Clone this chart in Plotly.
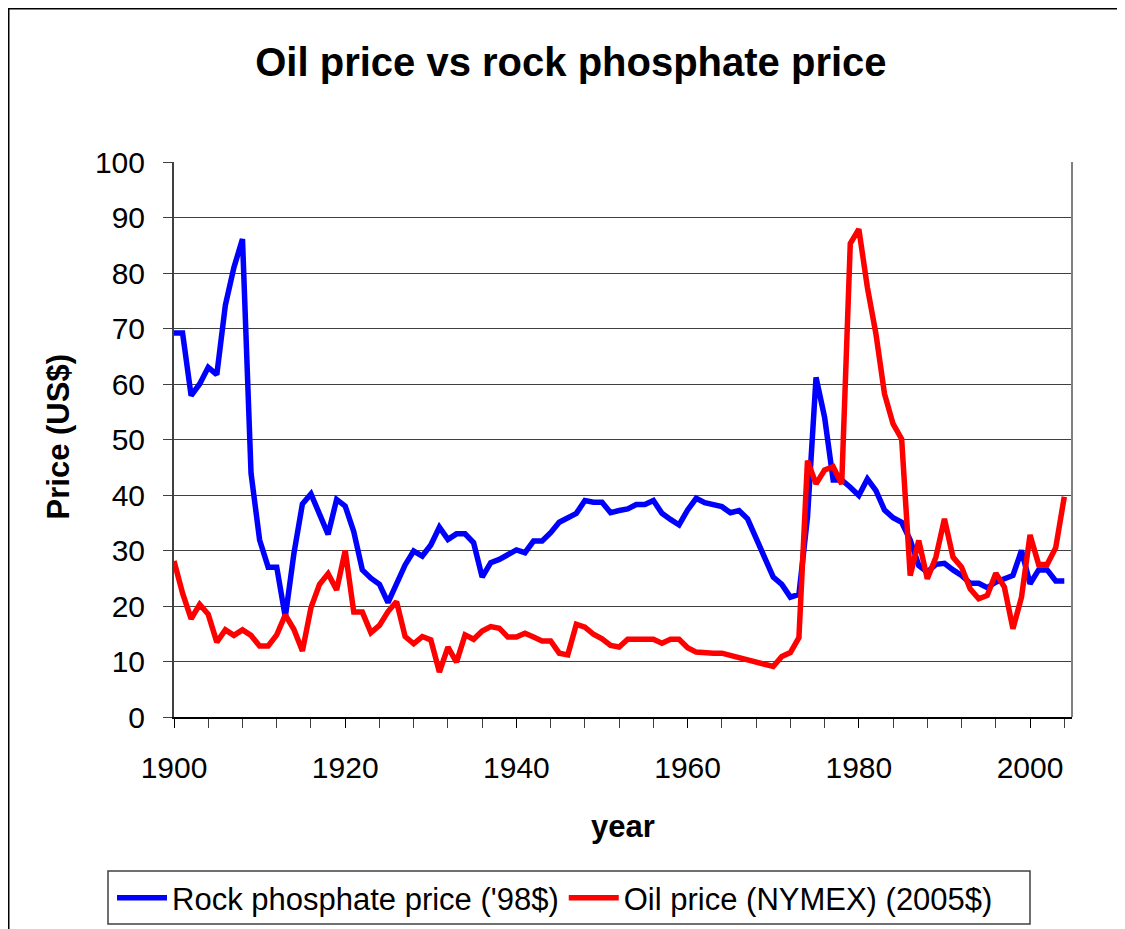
import plotly.graph_objects as go

years = list(range(1900, 2005))

rock_phosphate = [
    69.2, 69.2, 57.9, 60.0, 63.0, 61.7, 74.2, 81.0, 86.1, 43.9,
    31.9, 27.0, 27.0, 18.0, 29.4, 38.4, 40.2, 36.5, 32.9, 39.2,
    38.0, 33.4, 26.5, 25.0, 23.9, 20.6, 23.9, 27.4, 29.9, 29.0,
    31.0, 34.2, 32.0, 33.0, 33.0, 31.4, 25.2, 27.8, 28.4, 29.3,
    30.1, 29.6, 31.7, 31.7, 33.2, 35.1, 36.0, 36.7, 39.0, 38.7,
    38.7, 36.8, 37.2, 37.5, 38.3, 38.3, 39.0, 36.7, 35.6, 34.6,
    37.3, 39.4, 38.6, 38.2, 37.9, 36.8, 37.2, 35.7, 32.0, 28.3,
    25.2, 23.9, 21.6, 22.1, 36.0, 61.2, 54.0, 42.7, 42.7, 41.4,
    39.9, 42.9, 40.8, 37.3, 35.9, 35.1, 31.9, 27.3, 26.1, 27.5,
    27.7, 26.5, 25.5, 24.1, 24.1, 23.3, 24.3, 24.9, 25.5, 30.0,
    24.0, 26.5, 26.5, 24.5, 24.5,
]

oil_price = [
    28.1, 22.3, 17.7, 20.3, 18.5, 13.5, 15.7, 14.7, 15.7, 14.7,
    12.8, 12.8, 14.8, 18.4, 15.8, 11.9, 19.7, 23.9, 25.8, 22.9,
    30.0, 18.9, 18.9, 15.2, 16.5, 19.0, 20.8, 14.5, 13.2, 14.5,
    13.9, 8.1, 12.6, 9.9, 14.8, 14.0, 15.5, 16.3, 16.0, 14.4,
    14.4, 15.1, 14.4, 13.7, 13.7, 11.5, 11.2, 16.7, 16.2, 14.9,
    14.1, 12.9, 12.6, 14.0, 14.0, 14.0, 14.0, 13.3, 14.0, 14.0,
    12.5, 11.7, 11.5, 11.5, 11.5, 11.1, 10.7, 10.4, 10.1, 9.6,
    9.1, 10.9, 11.6, 14.3, 46.2, 42.0, 44.5, 45.1, 42.0, 85.3,
    87.9, 77.4, 69.0, 58.2, 52.8, 50.1, 25.5, 31.8, 24.9, 28.8,
    35.7, 28.8, 27.0, 23.1, 21.3, 21.9, 25.9, 23.4, 15.9, 21.6,
    32.8, 27.5, 27.5, 30.5, 39.7,
]

FONT = "Liberation Sans, Arial, sans-serif"

# the page body adds an 8px margin, so the figure starts at (8, 8) on the page
W, H = 1109, 921
L, T, PW, PH = 166, 154, 898, 555


def px_x(x):
    # figure pixel -> paper x
    return (x - L) / PW


def px_y(y):
    # figure pixel -> paper y
    return (T + PH - y) / PH


fig = go.Figure()

fig.add_trace(
    go.Scatter(
        x=years,
        y=rock_phosphate,
        mode="lines",
        name="Rock phosphate price ('98$)",
        line=dict(color="#0000ff", width=5.5)
    )
)

fig.add_trace(
    go.Scatter(
        x=years,
        y=oil_price,
        mode="lines",
        name="Oil price (NYMEX) (2005$)",
        line=dict(color="#ff0000", width=5.5)
    )
)

fig.update_layout(
    width=W,
    height=H,
    margin=dict(l=L, r=W - L - PW, t=T, b=H - T - PH),
    paper_bgcolor="white",
    plot_bgcolor="white",
    font=dict(family=FONT, size=30, color="black"),
    title=dict(
        text="<b>Oil price vs rock phosphate price</b>",
        font=dict(size=40),
        x=0.442,
        xref="paper",
        xanchor="center",
        y=1 - 54 / H,
        yanchor="middle"
    ),
    xaxis=dict(
        range=[1900, 2004.9],
        tick0=1900,
        dtick=20,
        ticks="outside",
        ticklen=9,
        tickcolor="black",
        ticklabelstandoff=14,
        minor=dict(dtick=4, ticks="outside", ticklen=9, tickcolor="#404040"),
        showgrid=False,
        showline=True,
        linecolor="black",
        linewidth=1.5,
        zeroline=False
    ),
    xaxis2=dict(
        overlaying="x",
        anchor="y",
        range=[1900, 2004.9],
        tick0=1900,
        dtick=20,
        ticks="inside",
        ticklen=7,
        tickcolor="black",
        showticklabels=False,
        minor=dict(dtick=4, ticks="inside", ticklen=7, tickcolor="#404040"),
        showgrid=False,
        showline=False,
        zeroline=False,
        side="bottom"
    ),
    yaxis=dict(
        range=[0, 100],
        dtick=10,
        ticks="outside",
        ticklen=9,
        tickcolor="#404040",
        ticklabelstandoff=12,
        showgrid=True,
        gridcolor="#404040",
        gridwidth=1,
        showline=True,
        linecolor="#404040",
        linewidth=2,
        zeroline=False
    ),
    legend=dict(
        orientation="h",
        xref="container",
        yref="container",
        x=104 / W,
        xanchor="left",
        y=1 - 863 / H,
        yanchor="top",
        borderwidth=0,
        bgcolor="rgba(0,0,0,0)",
        font=dict(size=31),
        itemwidth=50
    ),
    showlegend=True,
    annotations=[
        dict(
            text="<b>Price (US$)</b>",
            textangle=-90,
            x=-0.129,
            y=0.504,
            xref="paper",
            yref="paper",
            xanchor="center",
            yanchor="middle",
            showarrow=False,
            font=dict(size=31)
        ),
        dict(
            text="<b>year</b>",
            x=0.5,
            y=-0.198,
            xref="paper",
            yref="paper",
            xanchor="center",
            yanchor="middle",
            showarrow=False,
            font=dict(size=31)
        )
    ],
    shapes=[
        # plot area frame, right side
        dict(
            type="line",
            xref="paper",
            yref="paper",
            x0=1,
            x1=1,
            y0=0,
            y1=1,
            line=dict(color="#808080", width=2)
        ),
        # legend box
        dict(
            type="rect",
            xref="paper",
            yref="paper",
            x0=px_x(100),
            x1=px_x(1022),
            y0=px_y(916),
            y1=px_y(863),
            line=dict(color="#404040", width=1.5)
        ),
        # outer chart border (left and top edges visible)
        dict(
            type="rect",
            xref="paper",
            yref="paper",
            x0=px_x(0.75),
            x1=px_x(W + 40),
            y0=-1.0,
            y1=px_y(-0.25 + 1),
            line=dict(color="black", width=1.5)
        )
    ]
)

fig.write_html("out.html")
